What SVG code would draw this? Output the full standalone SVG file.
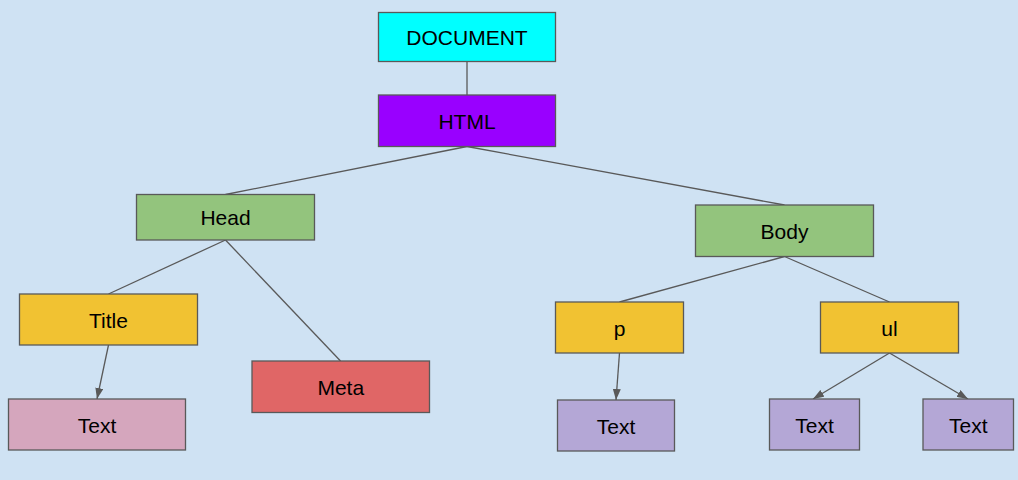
<svg xmlns="http://www.w3.org/2000/svg" width="1018" height="480" viewBox="0 0 1018 480">
<style>
.n{stroke:#595959;stroke-width:1.3}
.t{font-family:"Liberation Sans",Arial,sans-serif;font-size:21px;fill:#000;text-anchor:middle}
.c{stroke:#595959;stroke-width:1.3;fill:none}
.a{marker-end:url(#ah)}
</style>
<defs>
<marker id="ah" viewBox="0 0 11 8" refX="11" refY="4" markerWidth="11" markerHeight="8" markerUnits="userSpaceOnUse" orient="auto">
<path d="M0,0 L11,4 L0,8 z" fill="#595959"/>
</marker>
</defs>
<rect width="1018" height="480" fill="#cfe2f3"/>
<g id="connectors">
<line class="c" x1="467" y1="61.5" x2="467" y2="95"/>
<line class="c" x1="467" y1="146.5" x2="225.5" y2="194.5"/>
<line class="c" x1="467" y1="146.5" x2="784.5" y2="205"/>
<line class="c" x1="225.5" y1="240" x2="108.5" y2="294"/>
<line class="c" x1="225.5" y1="240" x2="340.5" y2="361"/>
<line class="c" x1="784.5" y1="256.5" x2="619.5" y2="302"/>
<line class="c" x1="784.5" y1="256.5" x2="889.5" y2="302"/>
<line class="c a" x1="108.5" y1="345" x2="97" y2="399"/>
<line class="c a" x1="619.5" y1="353" x2="616" y2="400"/>
<line class="c a" x1="889.5" y1="353" x2="813" y2="399"/>
<line class="c a" x1="889.5" y1="353" x2="968" y2="399"/>
</g>
<g id="document"><rect class="n" x="378.5" y="12.5" width="177" height="49" fill="#00ffff"/><text class="t" x="467" y="44.5">DOCUMENT</text></g>
<g id="html"><rect class="n" x="378.5" y="95" width="177" height="51.5" fill="#9900ff"/><text class="t" x="467" y="128.5">HTML</text></g>
<g id="head"><rect class="n" x="136.5" y="194.5" width="178" height="45.5" fill="#93c47d"/><text class="t" x="225.5" y="224.5">Head</text></g>
<g id="body"><rect class="n" x="695.5" y="205" width="178" height="51.5" fill="#93c47d"/><text class="t" x="784.5" y="238.5">Body</text></g>
<g id="title"><rect class="n" x="19.5" y="294" width="178" height="51" fill="#f1c232"/><text class="t" x="108.5" y="327.5">Title</text></g>
<g id="meta"><rect class="n" x="252" y="361" width="177.5" height="51.5" fill="#e06666"/><text class="t" x="340.75" y="394.5">Meta</text></g>
<g id="p"><rect class="n" x="555.5" y="302" width="128" height="51" fill="#f1c232"/><text class="t" x="619.5" y="335.5">p</text></g>
<g id="ul"><rect class="n" x="820.5" y="302" width="138" height="51" fill="#f1c232"/><text class="t" x="889.5" y="335.5">ul</text></g>
<g id="text-title"><rect class="n" x="8.5" y="399" width="177" height="51" fill="#d5a6bd"/><text class="t" x="97" y="432.5">Text</text></g>
<g id="text-p"><rect class="n" x="557.5" y="400" width="117" height="51" fill="#b4a7d6"/><text class="t" x="616" y="433.5">Text</text></g>
<g id="text-ul1"><rect class="n" x="769.5" y="399" width="90" height="51" fill="#b4a7d6"/><text class="t" x="814.5" y="432.5">Text</text></g>
<g id="text-ul2"><rect class="n" x="923" y="399" width="90.5" height="51" fill="#b4a7d6"/><text class="t" x="968.25" y="432.5">Text</text></g>
</svg>
